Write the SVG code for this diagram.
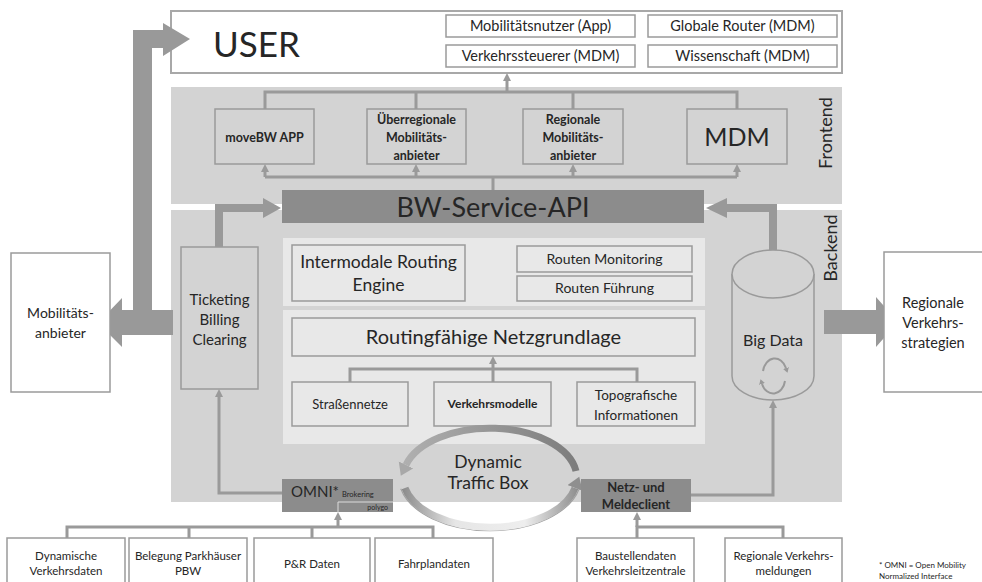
<svg xmlns="http://www.w3.org/2000/svg" width="982" height="582" viewBox="0 0 982 582">
<style>
.t{font-family:Lato,"Open Sans","Noto Sans",sans-serif;fill:#262626;text-anchor:middle}
.b{font-weight:bold}
.box{fill:none;stroke:#9a9a9a;stroke-width:1.5}
.wbox{fill:#fff;stroke:#9a9a9a;stroke-width:1.5}
.dark{fill:#8c8c8c}
.panel{fill:#d3d3d3}
.inner{fill:#e8e8e8}
.conn{fill:none;stroke:#9a9a9a;stroke-width:3}
.arr{marker-end:url(#ah)}
.big{fill:#999}
</style>
<defs>
<marker id="ah" markerUnits="userSpaceOnUse" markerWidth="10" markerHeight="10" refX="0" refY="4" orient="auto">
<path d="M0,0 L8,4 L0,8 z" fill="#9a9a9a"/>
</marker>
<marker id="ahs" markerUnits="userSpaceOnUse" markerWidth="8" markerHeight="8" refX="0" refY="3" orient="auto">
<path d="M0,0 L5,3 L0,6 z" fill="#999"/>
</marker>
<marker id="ahTop" markerUnits="userSpaceOnUse" markerWidth="20" markerHeight="20" refX="0" refY="8" orient="auto">
<path d="M0,0 L12,8 L0,16 z" fill="#a8a8a8"/>
</marker>
<marker id="ahBot" markerUnits="userSpaceOnUse" markerWidth="20" markerHeight="20" refX="0" refY="8" orient="auto">
<path d="M0,0 L12,8 L0,16 z" fill="#8f8f8f"/>
</marker>
<linearGradient id="gTop" gradientUnits="userSpaceOnUse" x1="403" y1="0" x2="577" y2="0">
<stop offset="0" stop-color="#b0b0b0"/><stop offset="1" stop-color="#7c7c7c"/>
</linearGradient>
<linearGradient id="gBot" gradientUnits="userSpaceOnUse" x1="403" y1="0" x2="577" y2="0">
<stop offset="0" stop-color="#8c8c8c"/><stop offset="0.3" stop-color="#e6e6e6"/><stop offset="0.7" stop-color="#eeeeee"/><stop offset="1" stop-color="#8f8f8f"/>
</linearGradient>
</defs>
<rect width="982" height="582" fill="#fff"/>

<!-- panels -->
<g id="panels">
<rect class="panel" x="171" y="87" width="671" height="117"/>
<rect class="panel" x="171" y="210" width="671" height="292"/>
<rect class="inner" x="283" y="238" width="422" height="68"/>
<rect class="inner" x="283" y="310" width="422" height="134"/>
<text class="t" font-size="18" transform="translate(832,133) rotate(-90)">Frontend</text>
<text class="t" font-size="18" transform="translate(837,248) rotate(-90)">Backend</text>
</g>

<!-- USER -->
<g id="user">
<rect x="171" y="11" width="671" height="62" fill="#fff" stroke="#a8a8a8" stroke-width="2"/>
<text class="t" x="213" y="57" font-size="35" style="text-anchor:start">USER</text>
<rect class="wbox" x="446" y="15" width="189" height="22"/>
<text class="t" x="540.5" y="31" font-size="14.5">Mobilitätsnutzer (App)</text>
<rect class="wbox" x="446" y="45" width="189" height="22"/>
<text class="t" x="540.5" y="61" font-size="14.5">Verkehrssteuerer  (MDM)</text>
<rect class="wbox" x="648" y="15" width="189" height="22"/>
<text class="t" x="742.5" y="31" font-size="14.5">Globale Router (MDM)</text>
<rect class="wbox" x="648" y="45" width="189" height="22"/>
<text class="t" x="742.5" y="61" font-size="14.5">Wissenschaft (MDM)</text>
</g>

<!-- connectors -->
<g id="connectors">
<path class="big" d="M133 30 H163 V23 L190 39 L163 56 V48 H152 V310 H173 V335 H122 V347 L98 323 L122 298 V310 H133 Z"/>
<path class="big" d="M824 310 H876 V297 L898 322 L876 347 V334 H824 Z"/>
<path d="M219 247 V208 H264" fill="none" stroke="#999" stroke-width="8"/>
<path class="big" d="M263 198 L281 208 L263 218 Z"/>
<path d="M773 250 V208 H726" fill="none" stroke="#999" stroke-width="8"/>
<path class="big" d="M727 198 L706 208 L727 218 Z"/>

<path class="conn" d="M265 109 V92 H737 V109 M416 109 V92 M573 109 V92"/>
<path class="conn arr" d="M507 92 V81"/>
<path class="conn" d="M265 177 H737 M493 190 V177"/>
<path class="conn arr" d="M265 177 V172"/>
<path class="conn arr" d="M416 177 V172"/>
<path class="conn arr" d="M573 177 V172"/>
<path class="conn arr" d="M737 177 V172"/>

<path class="conn" d="M350 382 V369 H637 V382 M493 382 V369"/>
<path class="conn arr" d="M493 369 V364"/>

<path class="conn arr" d="M282 493 H219 V397"/>
<path class="conn" d="M67 538 V527 H433 V538 M189 538 V527 M312 538 V527"/>
<path class="conn arr" d="M338 527 V520"/>
<path class="conn" d="M637 538 V527 H783 V538"/>
<path class="conn arr" d="M637 527 V520"/>
<path class="conn arr" d="M691 495 H773 V408"/>
</g>

<!-- frontend nodes -->
<g id="moveBW">
<rect class="box" x="215" y="109" width="99" height="55"/>
<text class="t b" x="264.5" y="141.5" font-size="12.5">moveBW APP</text>
</g>
<g id="ueberregional">
<rect class="box" x="367" y="109" width="99" height="55"/>
<text class="t b" x="416.5" y="123.5" font-size="12.5">Überregionale</text>
<text class="t b" x="416.5" y="141.5" font-size="12.5">Mobilitäts-</text>
<text class="t b" x="416.5" y="159.5" font-size="12.5">anbieter</text>
</g>
<g id="regional">
<rect class="box" x="523" y="109" width="100" height="55"/>
<text class="t b" x="573" y="123.5" font-size="12.5">Regionale</text>
<text class="t b" x="573" y="141.5" font-size="12.5">Mobilitäts-</text>
<text class="t b" x="573" y="159.5" font-size="12.5">anbieter</text>
</g>
<g id="mdm">
<rect class="box" x="687" y="109" width="100" height="55"/>
<text class="t" x="737" y="146" font-size="25">MDM</text>
</g>

<!-- API -->
<g id="api">
<rect class="dark" x="282" y="190" width="422" height="33"/>
<text class="t" x="493" y="217" font-size="27">BW-Service-API</text>
</g>

<!-- left side -->
<g id="mobilitaetsanbieter">
<rect class="wbox" x="11" y="253" width="99" height="139"/>
<text class="t" x="60.5" y="318" font-size="14">Mobilitäts-</text>
<text class="t" x="60.5" y="338" font-size="14">anbieter</text>
</g>
<g id="ticketing">
<rect class="box" x="181" y="247" width="77" height="142"/>
<text class="t" x="219.5" y="305" font-size="15">Ticketing</text>
<text class="t" x="219.5" y="325" font-size="15">Billing</text>
<text class="t" x="219.5" y="345" font-size="15">Clearing</text>
</g>

<!-- central -->
<g id="routing-engine">
<rect class="box" x="292" y="245" width="173" height="56"/>
<text class="t" x="378.5" y="268" font-size="17.5">Intermodale Routing</text>
<text class="t" x="378.5" y="291" font-size="17.5">Engine</text>
</g>
<g id="monitoring">
<rect class="box" x="517" y="246" width="175" height="26"/>
<text class="t" x="604.5" y="264" font-size="14">Routen Monitoring</text>
</g>
<g id="fuehrung">
<rect class="box" x="517" y="276" width="175" height="25"/>
<text class="t" x="604.5" y="293" font-size="14">Routen Führung</text>
</g>
<g id="netzgrundlage">
<rect class="box" x="292" y="318" width="403" height="38"/>
<text class="t" x="493.5" y="344" font-size="20">Routingfähige Netzgrundlage</text>
</g>
<g id="strassennetze">
<rect class="box" x="292" y="382" width="116" height="44"/>
<text class="t" x="350" y="409" font-size="13">Straßennetze</text>
</g>
<g id="verkehrsmodelle">
<rect class="box" x="434" y="382" width="117" height="44"/>
<text class="t b" x="492.5" y="408" font-size="12">Verkehrsmodelle</text>
</g>
<g id="topografie">
<rect class="box" x="577" y="382" width="118" height="44"/>
<text class="t" x="636" y="400" font-size="13.5">Topografische</text>
<text class="t" x="636" y="420" font-size="13.5">Informationen</text>
</g>

<!-- Dynamic Traffic Box -->
<g id="dtb">
<path d="M405 488 A87 50 0 0 0 575 488" fill="none" stroke="#a0a0a0" stroke-width="1" transform="translate(490 478) scale(1.05 1.07) translate(-490 -478)"/>
<path d="M576 471 A87 50 0 0 0 406 465" fill="none" stroke="url(#gTop)" stroke-width="7" marker-end="url(#ahTop)"/>
<path d="M405 488 A87 50 0 0 0 575 488" fill="none" stroke="url(#gBot)" stroke-width="7" marker-end="url(#ahBot)"/>
<text class="t" x="488" y="468" font-size="17.5">Dynamic</text>
<text class="t" x="488" y="489" font-size="17.5">Traffic Box</text>
</g>

<!-- Big Data -->
<g id="bigdata">
<path d="M732 274 V376 A41 24 0 0 0 814 376 V274" fill="#d3d3d3" stroke="#9a9a9a" stroke-width="1.5"/>
<ellipse cx="773" cy="274" rx="41" ry="24" fill="#d3d3d3" stroke="#9a9a9a" stroke-width="1.5"/>
<text class="t" x="773" y="346" font-size="16">Big Data</text>
<path d="M763 371 A12 15 0 0 1 786 368" fill="none" stroke="#999" stroke-width="2" marker-end="url(#ahs)"/>
<path d="M785 381 A12 15 0 0 1 762 384" fill="none" stroke="#999" stroke-width="2" marker-end="url(#ahs)"/>
</g>

<g id="strategien">
<rect class="wbox" x="884" y="252" width="110" height="140"/>
<text class="t" x="933" y="308" font-size="14.5">Regionale</text>
<text class="t" x="933" y="328" font-size="14.5">Verkehrs-</text>
<text class="t" x="933" y="348" font-size="14.5">strategien</text>
</g>

<!-- OMNI / Netz -->
<g id="omni">
<rect class="dark" x="282" y="479" width="111" height="33"/>
<text class="t" x="291" y="497" font-size="15" style="text-anchor:start">OMNI*</text>
<text class="t" x="342" y="497" font-size="7.5" style="text-anchor:start">Brokering</text>
<path d="M338 512 V502 H393" fill="none" stroke="#dcdcdc" stroke-width="1"/>
<text class="t" x="388" y="510" font-size="7" style="text-anchor:end">polygo</text>
</g>
<g id="netz">
<rect class="dark" x="581" y="479" width="110" height="33"/>
<text class="t b" x="636" y="492" font-size="13">Netz- und</text>
<text class="t b" x="636" y="509" font-size="13">Meldeclient</text>
</g>

<!-- sources -->
<g id="src1"><rect class="wbox" x="7" y="538" width="118" height="52"/>
<text class="t" x="66" y="560" font-size="11.5">Dynamische</text>
<text class="t" x="66" y="575" font-size="11.5">Verkehrsdaten</text></g>
<g id="src2"><rect class="wbox" x="129" y="538" width="118" height="52"/>
<text class="t" x="188" y="560" font-size="11.5">Belegung Parkhäuser</text>
<text class="t" x="188" y="575" font-size="11.5">PBW</text></g>
<g id="src3"><rect class="wbox" x="254" y="538" width="116" height="52"/>
<text class="t" x="312" y="568" font-size="11.5">P&amp;R Daten</text></g>
<g id="src4"><rect class="wbox" x="375" y="538" width="118" height="52"/>
<text class="t" x="434" y="568" font-size="11.5">Fahrplandaten</text></g>
<g id="src5"><rect class="wbox" x="577" y="538" width="117" height="52"/>
<text class="t" x="635.5" y="560" font-size="11.5">Baustellendaten</text>
<text class="t" x="635.5" y="575" font-size="11.5">Verkehrsleitzentrale</text></g>
<g id="src6"><rect class="wbox" x="725" y="538" width="117" height="52"/>
<text class="t" x="783.5" y="560" font-size="11.5">Regionale Verkehrs-</text>
<text class="t" x="783.5" y="575" font-size="11.5">meldungen</text></g>

<g id="footnote">
<text class="t" x="879" y="568" font-size="8" style="text-anchor:start">* OMNI = Open Mobility</text>
<text class="t" x="879" y="579" font-size="8" style="text-anchor:start">Normalized Interface</text>
</g>
</svg>
